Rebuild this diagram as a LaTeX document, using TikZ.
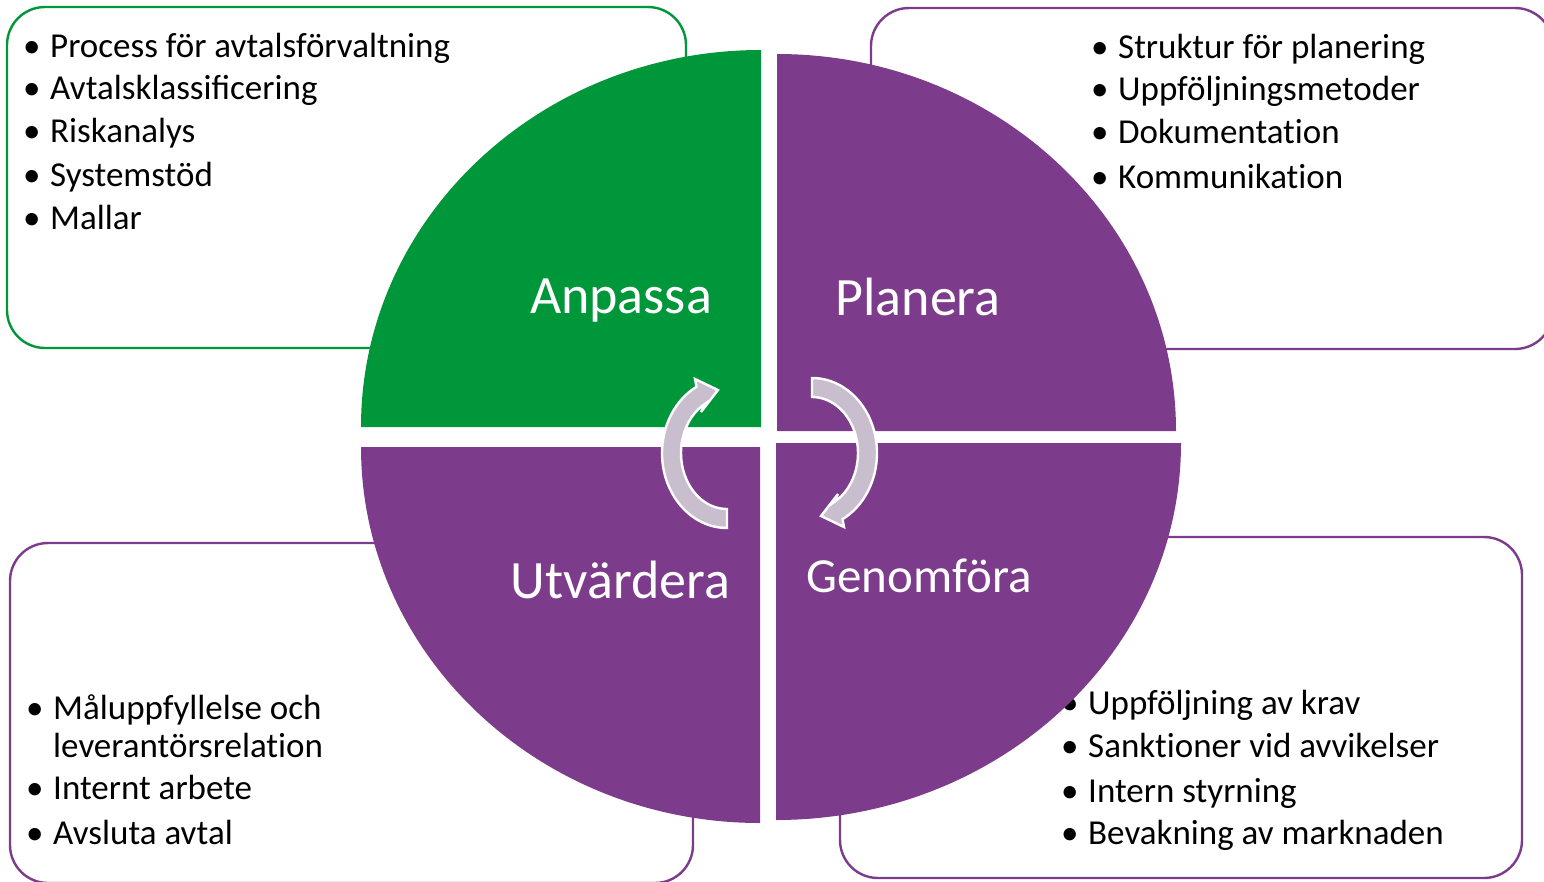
\documentclass[tikz,border=0pt]{standalone}
\usepackage{fontspec}
\setmainfont{Carlito}
\usetikzlibrary{calc}
\definecolor{cgreen}{RGB}{0,150,58}
\definecolor{cpurple}{RGB}{125,59,139}
\definecolor{carrow}{RGB}{201,190,205}
\newcommand{\bul}{\makebox[27pt][l]{•}}
\newcommand{\tix}{t\kern0pt i}
\tikzset{
  infobox/.style={line width=2.4pt, rounded corners=38pt},
  item/.style={anchor=base west, inner sep=0pt, font=\fontsize{35}{42}\selectfont, text=black},
  title/.style={anchor=base, inner sep=0pt, font=\fontsize{54}{64}\selectfont, text=white},
  cyclearrow/.style={fill=carrow, draw=white, line width=2.4pt, line join=miter}
}
\begin{document}
\begin{tikzpicture}[x=1pt,y=-1pt]
\useasboundingbox (0,0) rectangle (1544,881);
% info boxes
\draw[infobox, draw=cgreen] (7,7) rectangle (686,348);
\draw[infobox, draw=cpurple] (871,8) rectangle (1553,349);
\draw[infobox, draw=cpurple] (10,543) rectangle (693,883);
\draw[infobox, draw=cpurple] (840,537) rectangle (1522,878);
% lists
\node[item] (tl1) at (23,57) {\bul Process för avtalsförvaltning};
\node[item] (tl2) at (23,99) {\bul Avtalsklassificering};
\node[item] (tl3) at (23,142) {\bul Riskanalys};
\node[item] (tl4) at (23,186) {\bul Systemstöd};
\node[item] (tl5) at (23,229) {\bul Mallar};
\node[item] (tr1) at (1091,58) {\bul Struktur för planering};
\node[item] (tr2) at (1091,100) {\bul Uppföljningsmetoder};
\node[item] (tr3) at (1091,143) {\bul Dokumenta\tix on};
\node[item] (tr4) at (1091,188) {\bul Kommunika\tix on};
\node[item] (bl1) at (26,719) {\bul Måluppfyllelse och};
\node[item] (bl1b) at (53,757) {leverantörsrela\tix on};
\node[item] (bl2) at (26,799) {\bul Internt arbete};
\node[item] (bl3) at (26,844) {\bul Avsluta avtal};
\node[item] (br1) at (1061,714) {\bul Uppföljning av krav};
\node[item] (br2) at (1061,757) {\bul Sank\tix oner vid avvikelser};
\node[item] (br3) at (1061,802) {\bul Intern styrning};
\node[item] (br4) at (1061,844) {\bul Bevakning av marknaden};
% quadrants
\fill[cgreen] (761,427) -- (361,427) arc[start angle=180, end angle=270, x radius=400, y radius=377] -- cycle;
\fill[cpurple] (777,431) -- (777,54) arc[start angle=270, end angle=360, x radius=399, y radius=377] -- cycle;
\fill[cpurple] (760,447) -- (361,447) arc[start angle=180, end angle=90, x radius=399, y radius=376] -- cycle;
\fill[cpurple] (776,443) -- (1181,443) arc[start angle=0, end angle=90, x radius=405, y radius=377] -- cycle;
% titles
\node[title] (anpassa) at (621,313) {Anpassa};
\node[title] (planera) at (918,315) {Planera};
\node[title] (utvardera) at (620.5,598) {Utvärdera};
\node[title, font=\fontsize{49}{58}\selectfont] (genomfora) at (919,592) {Genomföra};
% cycle arrows
\foreach \rot in {0,180}{
  \begin{scope}[rotate around={\rot:(769.5,453)}]
    \draw[cyclearrow] (812,378) arc[start angle=270, end angle=422, x radius=65, y radius=75]
      -- (844,527) -- (821,516) -- (838,494)
      -- ({812+46*cos(62)},{453+56*sin(62)})
      arc[start angle=422, end angle=270, x radius=46, y radius=56] -- cycle;
  \end{scope}
}
\end{tikzpicture}
\end{document}
